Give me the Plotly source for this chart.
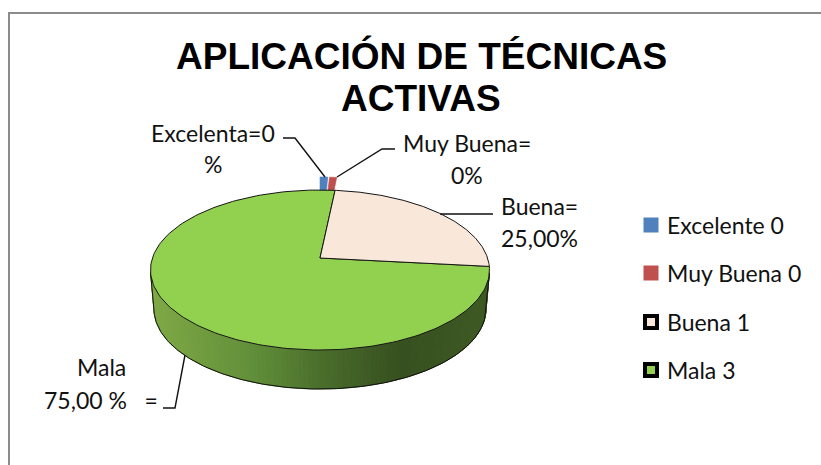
import numpy as np
import plotly.graph_objects as go

categories = ["Excelente", "Muy Buena", "Buena", "Mala"]
values = [0, 0, 1, 3]
colors = ["#4f81bd", "#c0504d", "#f9e7da", "#92d050"]
legend_rows = [225, 273, 322, 370]
slice_labels = [
    ["Excelenta=0", "%"],
    ["Muy Buena=", "0%"],
    ["Buena=", "25,00%"],
    ["Mala", "75,00 %   ="],
]

W, H = 821, 465
CX, CY, RX, RY = 320, 270, 169.5, 80
AX, AY = 320, 258
DEPTH = 39
BOTTOM_RX = 166
START_DEG = 6
SLIVER_DEG = [(0.0, 3.0), (3.7, 6.5)]
FONT = "Lato"


def rim(theta_deg, ry=RY):
    """Point of the rim reached from the apex at a pie angle (clockwise from top)."""
    th = np.radians(theta_deg)
    dx, dy = np.sin(th), -np.cos(th)
    py = (AY - CY) / ry
    b = py * dy
    t = -b + np.sqrt(b * b - py * py + 1)
    return CX + RX * t * dx, CY + ry * (py + t * dy)


def wedge(a0, a1, ry=RY, n=180):
    th = np.linspace(a0, a1, n)
    x, y = rim(th, ry)
    return np.r_[AX, x, AX], np.r_[AY, y, AY]


fig = go.Figure()

# Side wall of the disc: vertical strips with a green-to-dark gradient
side_stops = [(155, (126, 168, 69)), (250, (98, 144, 58)), (330, (72, 106, 42)),
              (400, (55, 80, 31)), (489, (62, 90, 36))]
angles = np.linspace(92, 268, 121)
xs_stop, rgb_stop = zip(*side_stops)
rgb_stop = np.array(rgb_stop, dtype=float)
for a0, a1 in zip(angles[:-1], angles[1:]):
    seg = np.linspace(a0, a1, 4)
    tx = CX + RX * np.sin(np.radians(seg))
    ty = CY - RY * np.cos(np.radians(seg))
    bx = CX + BOTTOM_RX * np.sin(np.radians(seg))
    by = CY + DEPTH - RY * np.cos(np.radians(seg))
    mid = tx.mean()
    c = [int(np.interp(mid, xs_stop, rgb_stop[:, i])) for i in range(3)]
    col = f"rgb({c[0]},{c[1]},{c[2]})"
    fig.add_trace(go.Scatter(x=np.r_[tx, bx[::-1], tx[0]], y=np.r_[ty, by[::-1], ty[0]],
                             mode="lines", fill="toself", fillcolor=col,
                             line=dict(color=col, width=1), hoverinfo="skip"))
# Outline of the side wall
seg = np.linspace(92, 268, 200)
ox = np.r_[CX + RX * np.sin(np.radians(92)), CX + BOTTOM_RX * np.sin(np.radians(seg)),
           CX + RX * np.sin(np.radians(268))]
oy = np.r_[CY - RY * np.cos(np.radians(92)), CY + DEPTH - RY * np.cos(np.radians(seg)),
           CY - RY * np.cos(np.radians(268))]
fig.add_trace(go.Scatter(x=ox, y=oy, mode="lines", line=dict(color="#111111", width=1), hoverinfo="skip"))

# Slices: angles come from the values; zero values appear as thin pulled slivers
total = sum(values)
cum = 0
spans = {}
for name, v in zip(categories, values):
    spans[name] = (START_DEG + cum / total * 360, START_DEG + (cum + v) / total * 360)
    cum += v

for i in (1, 0):
    x, y = wedge(*SLIVER_DEG[i], ry=RY + 13, n=6)
    fig.add_trace(go.Scatter(x=x, y=y, mode="lines", fill="toself", fillcolor=colors[i],
                             line=dict(color=colors[i], width=0.6), hoverinfo="skip"))
for i in (3, 2):
    x, y = wedge(*spans[categories[i]])
    fig.add_trace(go.Scatter(x=x, y=y, mode="lines", fill="toself", fillcolor=colors[i],
                             line=dict(color="#151515", width=1), hoverinfo="skip"))

# Leader lines
leaders = [([283, 295, 325], [138, 138, 177]),
           ([395, 382, 337], [149, 149, 177]),
           ([440, 493], [214, 214]),
           ([185, 175, 163], [355, 408, 408])]
for lx, ly in leaders:
    fig.add_trace(go.Scatter(x=lx, y=ly, mode="lines", line=dict(color="#111111", width=1.4), hoverinfo="skip"))

# Legend
for i, (name, v, row) in enumerate(zip(categories, values, legend_rows)):
    boxed = i >= 2
    fig.add_trace(go.Scatter(
        x=[651], y=[row], mode="markers", hoverinfo="skip",
        marker=dict(symbol="square", size=15 if not boxed else 12, color=colors[i],
                    line=dict(color="black", width=4 if boxed else 0))))
    fig.add_annotation(x=665, y=row, text=f"{name} {v}", showarrow=False, xanchor="left", yanchor="middle",
                       font=dict(family=FONT, size=23, color="#111111"))

# Slice labels
label_pos = [(213, 133, 164), (467, 143, 175), (539, 206, 238), (101, 367, 400)]
for (lx, y1, y2), lines in zip(label_pos, slice_labels):
    for yy, txt in zip((y1, y2), lines):
        fig.add_annotation(x=lx, y=yy, text=txt, showarrow=False, xanchor="center", yanchor="middle",
                           font=dict(family=FONT, size=23, color="#111111"))

# Title
for yy, txt in zip((56, 98), ("APLICACIÓN DE TÉCNICAS", "ACTIVAS")):
    fig.add_annotation(x=421, y=yy, text=f"<b>{txt}</b>", showarrow=False, xanchor="center", yanchor="middle",
                       font=dict(family="Liberation Sans", size=37, color="black"))

# Chart frame (top and left edges show)
fig.add_trace(go.Scatter(x=[9, 9, 821], y=[465, 13, 13], mode="lines",
                         line=dict(color="#8c8c8c", width=2), hoverinfo="skip"))

fig.update_layout(
    width=W, height=H, margin=dict(l=0, r=0, t=0, b=0), showlegend=False,
    paper_bgcolor="white", plot_bgcolor="white",
    xaxis=dict(range=[0, W], visible=False, fixedrange=True),
    yaxis=dict(range=[H, 0], visible=False, fixedrange=True),
)
fig.write_html("out.html", post_script="document.body.style.margin='0';document.documentElement.style.overflow='hidden';",
               config=dict(displayModeBar=False))
